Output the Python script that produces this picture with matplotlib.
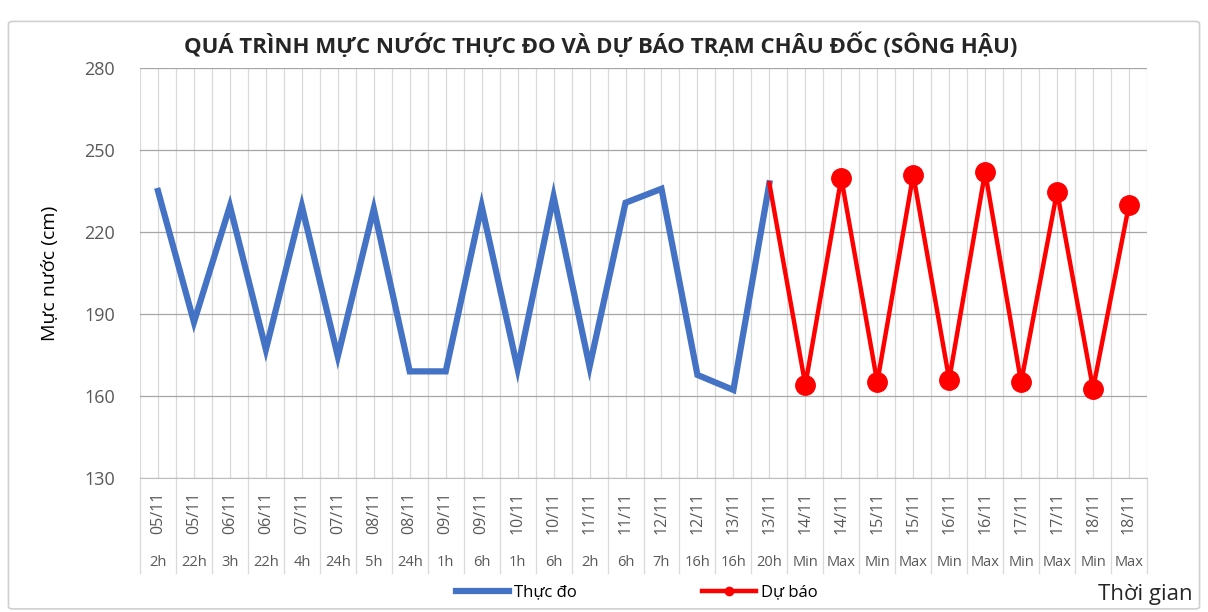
import matplotlib
matplotlib.use("Agg")
import matplotlib.pyplot as plt
import matplotlib.transforms as mtransforms
from matplotlib.lines import Line2D
from matplotlib.patches import FancyBboxPatch
import numpy as np

# === DATA ===
dates = ["05/11", "05/11", "06/11", "06/11", "07/11", "07/11", "08/11", "08/11",
         "09/11", "09/11", "10/11", "10/11", "11/11", "11/11", "12/11", "12/11",
         "13/11", "13/11", "14/11", "14/11", "15/11", "15/11", "16/11", "16/11",
         "17/11", "17/11", "18/11", "18/11"]
hours = ["2h", "22h", "3h", "22h", "4h", "24h", "5h", "24h", "1h", "6h", "1h", "6h",
         "2h", "6h", "7h", "16h", "16h", "20h", "Min", "Max", "Min", "Max", "Min",
         "Max", "Min", "Max", "Min", "Max"]
observed = [235, 187, 229.5, 177, 229.5, 174.5, 228.5, 169, 169, 229.5, 170, 233,
            170.7, 230.7, 235.8, 167.7, 162.2, 237.8]
forecast_start = 17          # forecast line is joined to the last observed point
forecast = [237.8, 164, 239.8, 165, 241, 166, 242, 165, 234.8, 162.6, 229.9]

BLUE = "#4472C4"
RED = "#FF0000"
GRID = "#D9D9D9"
TICK = "#595959"

plt.rcParams["font.family"] = ["Open Sans", "DejaVu Sans"]

fig = plt.figure(figsize=(12.08, 6.12), dpi=100)
ax = fig.add_axes([0.1159, 0.2190, 0.8336, 0.6699])

# outer chart frame
fig.patches.append(FancyBboxPatch((0.007, 0.005), 0.986, 0.96, boxstyle="round,pad=0,rounding_size=0.004",
                                  transform=fig.transFigure, facecolor="none",
                                  edgecolor="#D0D0D0", linewidth=1.2))

n = len(dates)
x_obs = np.arange(len(observed))
x_fc = np.arange(forecast_start, forecast_start + len(forecast))

ax.plot(x_obs, observed, color=BLUE, linewidth=4.5, solid_joinstyle="miter", zorder=3)
ax.plot(x_fc, forecast, color=RED, linewidth=3.2, zorder=3)
ax.plot(x_fc[1:], forecast[1:], linestyle="none", marker="o", markersize=14,
        color=RED, zorder=4)

ax.set_xlim(-0.5, n - 0.5)
ax.set_ylim(130, 280)
ax.set_yticks(np.arange(130, 281, 30))
ax.set_xticks(np.arange(-0.5, n, 1.0))
ax.set_xticks(np.arange(0, n, 1.0), minor=True)
ax.set_xticklabels([])
ax.tick_params(axis="x", which="both", length=0)
ax.tick_params(axis="y", length=0, labelsize=13, labelcolor=TICK, pad=18)

ax.grid(axis="y", color="#A6A6A6", linewidth=0.9)
ax.grid(axis="x", which="both", color=GRID, linewidth=0.9)
ax.set_axisbelow(True)
for s in ["top", "right", "left"]:
    ax.spines[s].set_visible(False)
ax.spines["bottom"].set_color("#BFBFBF")

ax.set_ylabel("Mực nước (cm)", fontsize=14, labelpad=18)

# two level category labels
trans = mtransforms.blended_transform_factory(ax.transData, ax.transAxes)
for i in range(n):
    ax.text(i, -0.086, dates[i], rotation=90, ha="center", va="center",
            fontsize=11.5, color=TICK, transform=trans)
    ax.text(i, -0.207, hours[i], ha="center", va="center",
            fontsize=10.5, color=TICK, transform=trans)
for b in np.arange(-0.5, n, 1.0):
    ax.add_line(Line2D([b, b], [0, -0.233], transform=trans, color=GRID,
                       linewidth=0.9, clip_on=False))

fig.text(0.497, 0.926, "QUÁ TRÌNH MỰC NƯỚC THỰC ĐO VÀ DỰ BÁO TRẠM CHÂU ĐỐC (SÔNG HẬU)",
         ha="center", va="center", fontsize=16, fontweight="bold", color="#262626")
fig.text(0.948, 0.028, "Thời gian", ha="center", va="center", fontsize=16, color="#262626")

handles = [Line2D([], [], color=BLUE, linewidth=4.5),
           Line2D([], [], color=RED, linewidth=3.2, marker="o", markersize=6)]
fig.legend(handles, ["Thực đo", "Dự báo"], loc="center", bbox_to_anchor=(0.527, 0.032),
           ncol=2, frameon=False, fontsize=12, handlelength=3.2, columnspacing=7.5,
           handletextpad=0.3)

fig.savefig("out.png", dpi=100)
